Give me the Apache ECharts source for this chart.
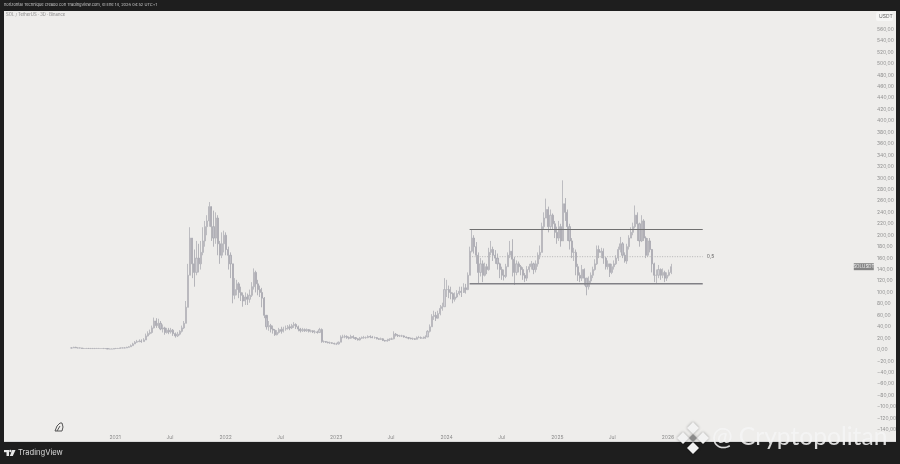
<!DOCTYPE html>
<html><head><meta charset="utf-8">
<style>
html,body{margin:0;padding:0;background:#1e1e1e;width:900px;height:464px;overflow:hidden}
#panel{position:absolute;left:4px;top:11px;width:892px;height:431px;background:#eeedeb;border-bottom:1px solid #d8d8d8;box-sizing:border-box}
#c{position:absolute;left:0;top:0;width:900px;height:464px;filter:blur(0.35px)}
</style>
<script src="https://cdn.jsdelivr.net/npm/echarts@6/dist/echarts.min.js"></script>
</head><body><div id="panel"></div><div id="c"></div>
<script>
// Weekly bars, first bar on this date
const firstBar = '2020-08-10';
const closes = [
3,4,3,3,3,2,2,2,2,2, 2,2,2,2,2,2,2,1,1,1, 2,2,2,3,3,3,4,5,7,10, 13,14,15,14,17,24,28,30,38,50,
42,46,36,38,30,34,31,34,28,24, 27,32,38,46,74,130,195,150,135,160, 150,170,190,215,225,250,215,195,230,185,
165,185,200,175,165,150,95,105,115,100, 95,85,92,88,95,110,135,115,105,100, 90,60,40,42,36,34,26,30,35,32,
36,37,40,38,42,44,40,36,33,35, 33,35,32,33,31,31,30,35,14,14, 13,12,12,11,10,10,13,22,22,23,
21,20,23,21,19,17,20,21,21,21, 23,22,21,21,19,18,19,16,15,16, 18,19,27,25,24,24,24,22,21,20,
19,19,18,21,21,20,20,22,32,40, 58,60,55,63,72,75,105,105,100,98, 88,92,98,102,100,108,105,130,172,195,
180,165,135,150,130,145,140,170,175,165, 160,150,140,130,128,145,165,172,158,135, 150,145,140,130,125,140,145,150,140,150,
165,170,215,230,245,215,235,220,205,195, 215,190,255,240,215,190,170,170,145,130, 125,140,125,110,120,130,140,150,175,170,
172,160,145,150,135,145,150,160,175,185, 165,155,180,195,205,215,235,220,190,225, 195,165,190,175,150,130,130,140,130,135,
125,130,135,145];
const highs = [
4,5,5,4,4,3,3,3,3,3, 3,3,3,3,2,3,2,2,2,2, 2,3,3,4,4,4,5,6,9,12, 15,17,18,18,20,28,32,35,42,56,
55,54,50,44,40,38,38,38,36,30, 31,34,42,50,85,150,214,195,175,190, 185,190,214,225,235,258,245,243,240,235,
190,205,208,205,180,170,150,125,122,118, 110,100,100,98,105,118,142,138,122,112, 108,92,55,50,45,42,36,34,38,40,
40,42,43,44,45,48,46,42,38,38, 37,37,36,35,34,34,33,38,37,16, 15,14,14,13,12,12,14,25,26,26,
25,23,26,25,22,20,22,23,24,23, 25,25,24,23,22,20,21,20,17,19, 20,21,32,29,27,26,26,25,23,22,
21,21,20,23,24,23,23,25,34,44, 62,68,66,68,78,82,125,122,112,110, 100,100,104,110,110,116,115,135,180,210,
200,188,170,160,156,152,150,178,190,180, 174,168,152,145,140,150,170,190,193,162, 156,154,148,144,134,146,150,155,152,156,
170,182,222,240,264,250,245,238,225,215, 225,220,296,265,245,220,195,178,175,150, 135,148,142,125,128,135,145,158,182,182,
178,177,162,156,150,150,156,165,180,197, 188,170,185,200,214,222,252,240,222,235, 228,198,195,195,176,152,140,148,142,142,
138,135,140,150];
const lows = [
2,3,3,2,2,2,2,2,2,1, 1,1,2,2,2,1,1,1,1,1, 1,1,2,2,2,3,3,4,5,7, 10,12,13,12,14,17,23,26,28,37,
38,38,34,30,26,28,27,28,24,21, 22,25,30,36,46,74,130,125,110,130, 135,140,165,180,200,215,190,180,185,165,
150,160,170,165,140,125,81,88,95,90, 85,75,78,78,82,92,105,100,95,92, 74,55,35,33,30,28,24,25,28,28,
30,33,35,34,36,38,36,32,30,31, 31,31,30,30,29,28,28,29,12,12, 12,11,10,10,9,8,9,13,20,20,
19,18,19,19,17,16,16,19,19,19, 20,20,20,19,18,17,17,15,14,14, 15,17,18,23,22,22,22,21,20,18,
18,17,17,18,20,19,19,19,22,30, 40,52,50,54,60,68,75,92,90,88, 81,84,90,95,92,99,98,104,130,170,
168,150,116,128,118,128,132,138,165,155, 150,140,125,122,121,125,145,160,128,113, 130,135,130,122,118,120,135,140,132,135,
145,158,170,210,230,205,210,210,195,185, 190,180,190,225,190,175,160,155,130,120, 118,120,112,95,105,115,125,138,148,160,
160,150,140,140,127,132,140,148,155,170, 160,152,150,175,195,200,212,190,180,188, 190,160,162,170,135,118,115,125,122,125,
118,120,128,132];

const priceTicks = [560,540,520,500,480,460,440,420,400,380,360,340,320,300,280,260,240,220,200,180,160,140,120,100,80,60,40,20,0,-20,-40,-60,-80,-100,-120,-140];
const timeTickDates = ['2021-01-01','2021-07-01','2022-01-01','2022-07-01','2023-01-01','2023-07-01','2024-01-01','2024-07-01','2025-01-01','2025-07-01','2026-01-01'];
const timeTickLabels = ['2021','Jul','2022','Jul','2023','Jul','2024','Jul','2025','Jul','2026'];

const rangeDates = ['2024-03-17','2026-04-26'];
const rangeTop = 210;
const rangeMid = 162.5;
const rangeBottom = 115;
const lastPrice = 145;
const lastPriceTagDate = '2027-10-10';

const DAY = 86400000;
const t0 = Date.parse(firstBar);
const candles = closes.map((c,i)=>[t0+i*7*DAY, i?closes[i-1]:c, c, lows[i], highs[i]]);
const tickTimes = timeTickDates.map(d=>Date.parse(d));
const level = (v)=>rangeDates.map(d=>[Date.parse(d),v]);
const fmtPrice = v=>(v<0?'\u2212':'')+Math.abs(v).toFixed(2).replace('.',',');

const chart = echarts.init(document.getElementById('c'),null,{renderer:'canvas',width:900,height:464});
const white='#f2f2f2';
const diamond=(cx,cy,r,fill)=>({type:'polygon',z:100,shape:{points:[[cx,cy-r],[cx+r,cy],[cx,cy+r],[cx-r,cy]]},style:{fill,shadowBlur:3,shadowColor:'rgba(0,0,0,.35)'}});
chart.setOption({
  animation:false,
  backgroundColor:'transparent',
  textStyle:{fontFamily:'Inter, "Noto Sans", sans-serif'},
  grid:{left:4,right:25,top:11,bottom:32},
  xAxis:{type:'value',min:Date.parse('2019-12-31'),max:Date.parse('2027-11-16'),
    splitLine:{show:false},axisLine:{show:false},axisTick:{show:false},
    axisLabel:{customValues:tickTimes,margin:3,fontSize:5,color:'#8c8c8c',hideOverlap:false,
      formatter:v=>{const i=tickTimes.indexOf(+v);return i>=0?timeTickLabels[i]:'';}}},
  yAxis:{type:'value',position:'right',min:-144,max:592,
    splitLine:{show:false},axisLine:{show:false},axisTick:{show:false},
    axisLabel:{customValues:priceTicks,margin:2,fontSize:5,color:'#929292',align:'left',formatter:fmtPrice}},
  series:[
   {type:'candlestick',name:'SOLUSDT',data:candles,barWidth:1.6,clip:false,
    itemStyle:{color:'#d0d0d4',color0:'#c0c0c6',borderColor:'#b0b0b6',borderColor0:'#a6a6ad',borderWidth:0.8},
    markPoint:{silent:true,animation:false,symbol:'rect',symbolSize:[20,7],
      data:[{coord:[Date.parse(lastPriceTagDate),lastPrice],value:'SOLUSDT'}],
      itemStyle:{color:'#858585'},
      label:{show:true,position:'inside',color:'#f4f4f4',fontSize:4.5,formatter:'SOLUSDT'}}},
   {type:'line',name:'Top',data:level(rangeTop),symbol:'none',lineStyle:{color:'#707070',width:1}},
   {type:'line',name:'Mid',data:level(rangeMid),symbol:'none',lineStyle:{color:'#b4b4b4',width:1,type:[1,1.5]},
    endLabel:{show:true,formatter:'0,5',fontSize:5,color:'#666',distance:4}},
   {type:'line',name:'Bottom',data:level(rangeBottom),symbol:'none',lineStyle:{color:'#808085',width:1.5}}
  ],
  graphic:[
   {type:'text',z:100,x:4,y:3,style:{text:'horizontal Technique creado con TradingView.com, el Ene 14, 2026 04:52 UTC+1',fill:'#c8c8c8',fontSize:4,fontFamily:'Inter'}},
   {type:'text',z:100,x:6,y:13,style:{text:'SOL / TetherUS \u00b7 3D \u00b7 Binance',fill:'#8a8a8a',fontSize:4.2,fontFamily:'Inter'}},
   {type:'rect',z:99,shape:{x:876,y:12,width:17,height:9,r:2},style:{fill:'#f6f6f5'}},
   {type:'text',z:100,x:879,y:13.5,style:{text:'USDT',fill:'#666',fontSize:5,fontFamily:'Inter'}},
   {type:'polyline',z:100,shape:{points:[[55,431],[57,426],[60,423],[62,423],[63,427],[62,431],[55,431]]},style:{fill:'none',stroke:'#555',lineWidth:1}},
   {type:'line',z:100,shape:{x1:57,y1:431,x2:60,y2:426},style:{stroke:'#555',lineWidth:1}},
   {type:'rect',z:100,shape:{x:4,y:450,width:5,height:2.2},style:{fill:'#e8e8e8'}},
   {type:'rect',z:100,shape:{x:6.5,y:450,width:2.5,height:6},style:{fill:'#e8e8e8'}},
   {type:'circle',z:100,shape:{cx:10.4,cy:451,r:1.2},style:{fill:'#e8e8e8'}},
   {type:'polygon',z:100,shape:{points:[[12.2,450],[15.5,450],[12.8,456],[9.8,456]]},style:{fill:'#e8e8e8'}},
   {type:'text',z:100,x:18,y:449,style:{text:'TradingView',fill:'#dcdcdc',fontSize:7.6,fontFamily:'Inter'}},
   diamond(693,428,6,white),diamond(683,438,6,white),diamond(703,438,6,white),diamond(693,448,6,white),
   diamond(693,438,4,'#8a8a8a'),
   {type:'text',z:100,x:712,y:424.5,style:{text:'@ Cryptopolitan',fill:'rgba(245,245,245,0.88)',fontSize:24.6,fontFamily:'Lato',shadowBlur:3,shadowColor:'rgba(0,0,0,.45)',shadowOffsetY:1}}
  ]
});
</script></body></html>
